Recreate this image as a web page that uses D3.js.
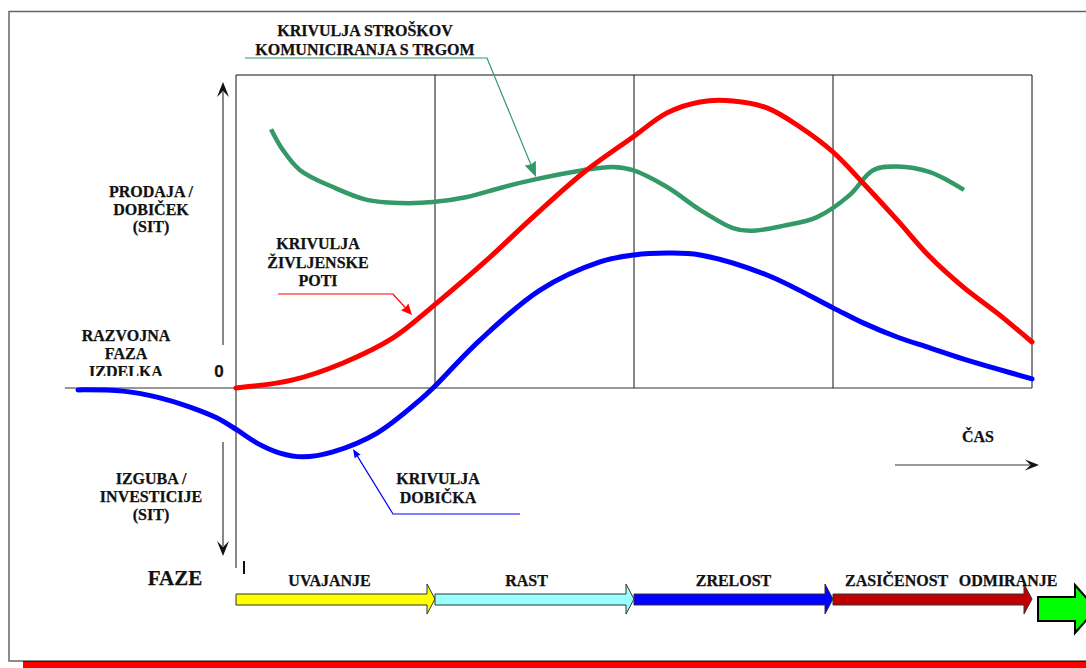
<!DOCTYPE html>
<html>
<head>
<meta charset="utf-8">
<script src="https://cdn.jsdelivr.net/npm/d3@7"></script>
<style>
  body { margin: 0; background: #fff; }
  svg { display: block; }
  text { font-family: "Liberation Serif", "Times New Roman", serif; font-weight: bold; fill: #111; stroke: #111; stroke-width: 0.25px; }
</style>
</head>
<body>
<svg id="chart" width="1086" height="668"></svg>
<script>
// Time is measured in phases (0..4 = introduction .. decline, negative = development);
// values are relative to the top of the chart box (100).
const salesTime  = [0, 0.286, 0.538, 0.789, 1.01, 1.261, 1.492, 1.744, 1.995, 2.166, 2.332, 2.497, 2.668, 2.834, 3.0, 3.151, 3.322, 3.487, 3.653, 3.824, 4.0];
const salesValue = [0, 2.6, 8.0, 16.0, 27.2, 40.9, 54.6, 68.7, 80.2, 87.9, 91.4, 91.7, 89.5, 83.4, 75.4, 65.5, 53.7, 41.9, 32.3, 24.0, 14.7];

const profitTime  = [-0.794, -0.568, -0.397, -0.231, -0.095, 0.005, 0.106, 0.221, 0.337, 0.487, 0.709, 0.925, 0.99, 1.226, 1.528, 1.829, 2.0, 2.166, 2.332, 2.668, 3.0, 3.151, 3.322, 3.487, 3.653, 3.824, 4.0];
const profitValue = [-0.6, -1.0, -2.9, -6.1, -9.6, -13.4, -17.6, -20.8, -22.0, -20.4, -14.4, -3.8, 0, 15.3, 31.3, 40.3, 42.5, 43.1, 42.5, 36.1, 25.6, 20.8, 16.3, 12.8, 9.3, 6.1, 2.9];

const costTime  = [0.176, 0.236, 0.322, 0.487, 0.658, 0.824, 0.99, 1.161, 1.327, 1.492, 1.744, 1.894, 1.995, 2.166, 2.332, 2.497, 2.583, 2.749, 2.92, 3.085, 3.201, 3.322, 3.487, 3.658];
const costValue = [82.7, 76.0, 69.6, 64.2, 60.1, 59.1, 59.4, 61.0, 63.9, 66.5, 69.6, 70.6, 69.6, 64.2, 56.9, 51.1, 50.2, 51.8, 54.6, 61.7, 69.6, 70.8, 69.0, 63.3];

const phaseBounds = [0, 1, 2, 3, 4];
const phaseNames  = ["UVAJANJE", "RAST", "ZRELOST", "ZASIČENOST", "ODMIRANJE"];
const phaseLabelTime = [0.47, 1.46, 2.5, 3.32, 3.88];
const phaseColors = ["#FFFF00", "#99FFFF", "#0000FF", "#C00000"];

const svg = d3.select("#chart");
const x = d3.scaleLinear().domain([0, 4]).range([236, 1032]);
const y = d3.scaleLinear().domain([0, 100]).range([388, 75]);

// outer frame and bottom bar
svg.append("rect").attr("x", 9).attr("y", 11.5).attr("width", 1100).attr("height", 649.5)
  .attr("fill", "none").attr("stroke", "#666").attr("stroke-width", 1.5);
svg.append("rect").attr("x", 23).attr("y", 662).attr("width", 1063).attr("height", 6).attr("fill", "#FF0000");
svg.append("line").attr("x1", 23).attr("x2", 1086).attr("y1", 661.5).attr("y2", 661.5).attr("stroke", "#222");

// filled arrow head, tip at (tx,ty) pointing along angle (radians)
function head(g, tx, ty, ang, len, wid, color, notch) {
  const pts = [[0, 0], [-len, -wid / 2], [-len * notch, 0], [-len, wid / 2]];
  const c = Math.cos(ang), s = Math.sin(ang);
  g.append("path")
    .attr("d", "M" + pts.map(p => [tx + p[0] * c - p[1] * s, ty + p[0] * s + p[1] * c]).join("L") + "Z")
    .attr("fill", color);
}

// chart box with phase dividers
svg.append("line").attr("x1", x(0)).attr("x2", x(4)).attr("y1", y(100)).attr("y2", y(100)).attr("stroke", "#111");
phaseBounds.forEach((t, i) => {
  svg.append("line").attr("x1", x(t)).attr("x2", x(t))
    .attr("y1", y(100)).attr("y2", i === 0 ? 568 : y(0))
    .attr("stroke", "#111").attr("stroke-width", 1);
});
// zero line through the development phase
svg.append("line").attr("x1", x(-0.86)).attr("x2", x(4)).attr("y1", y(0)).attr("y2", y(0)).attr("stroke", "#333");

// vertical value arrows
const axX = 223;
svg.append("line").attr("x1", axX).attr("x2", axX).attr("y1", 345).attr("y2", 92).attr("stroke", "#111");
head(svg, axX, 82, -Math.PI / 2, 15, 12, "#111", 0.6);
svg.append("line").attr("x1", axX).attr("x2", axX).attr("y1", 442).attr("y2", 546).attr("stroke", "#111");
head(svg, axX, 556, Math.PI / 2, 15, 12, "#111", 0.6);
svg.append("line").attr("x1", 244).attr("x2", 244).attr("y1", 561).attr("y2", 574).attr("stroke", "#111").attr("stroke-width", 2);

// time arrow
svg.append("line").attr("x1", 895).attr("x2", 1030).attr("y1", 465).attr("y2", 465).attr("stroke", "#333");
head(svg, 1039, 465, 0, 14, 11, "#111", 0.6);

// curves
const line = d3.line().x(d => x(d[0])).y(d => y(d[1])).curve(d3.curveCatmullRom.alpha(0.5));
const zip = (a, b) => a.map((t, i) => [t, b[i]]);

svg.append("path").attr("d", line(zip(costTime, costValue)))
  .attr("fill", "none").attr("stroke", "#339966").attr("stroke-width", 4.5);
svg.append("path").attr("d", line(zip(profitTime, profitValue)))
  .attr("fill", "none").attr("stroke", "#0000FF").attr("stroke-width", 5).attr("stroke-linecap", "round");
svg.append("path").attr("d", line(zip(salesTime, salesValue)))
  .attr("fill", "none").attr("stroke", "#FF0000").attr("stroke-width", 5).attr("stroke-linecap", "round");

// callout pointers
function pointer(pts, color, hl, hw) {
  const n = pts.length;
  const [ax, ay] = pts[n - 2], [bx, by] = pts[n - 1];
  const ang = Math.atan2(by - ay, bx - ax);
  const end = [bx - Math.cos(ang) * hl * 0.8, by - Math.sin(ang) * hl * 0.8];
  svg.append("path").attr("d", d3.line()(pts.slice(0, n - 1).concat([end])))
    .attr("fill", "none").attr("stroke", color).attr("stroke-width", 1.2);
  head(svg, bx, by, ang, hl, hw, color, 0.9);
}
pointer([[245, 58], [487, 58], [536, 177]], "#339966", 15, 12);
pointer([[278, 294], [393, 294], [412, 315]], "#FF0000", 11, 10);
pointer([[520, 514], [393, 514], [353, 449]], "#0000FF", 9, 7);

// text blocks
function block(lines, cx, y0, dy, size, family) {
  const t = svg.append("text").attr("text-anchor", "middle").attr("font-size", size);
  if (family) t.style("font-family", family);
  lines.forEach((s, i) => t.append("tspan").attr("x", cx).attr("y", y0 + i * dy).text(s));
  return t;
}
block(["KRIVULJA STROŠKOV", "KOMUNICIRANJA S TRGOM"], 365, 36, 19, 16);
block(["PRODAJA /", "DOBIČEK", "(SIT)"], 151, 197, 17.5, 16);
block(["KRIVULJA", "ŽIVLJENSKE", "POTI"], 318, 249, 18.5, 16);
svg.append("clipPath").attr("id", "devClip").append("rect").attr("x", 60).attr("y", 300).attr("width", 140).attr("height", 76);
block(["RAZVOJNA", "FAZA", "IZDELKA"], 126, 341, 18, 16).attr("clip-path", "url(#devClip)");
block(["IZGUBA /", "INVESTICIJE", "(SIT)"], 151, 484, 18, 16);
block(["KRIVULJA", "DOBIČKA"], 438, 484, 18.5, 16);
block(["0"], 219, 377, 0, 17, "'Liberation Sans', Arial, sans-serif");
block(["FAZE"], 175, 585, 0, 21);
block(["ČAS"], 978, 442, 0, 16);

// phase arrows
const bodyTop = 594, bodyBot = 605, headTop = 584, headBot = 614, headLen = 8;
phaseColors.forEach((c, i) => {
  const x0 = x(phaseBounds[i]), x1 = x(phaseBounds[i + 1]);
  const pts = [[x0, bodyTop], [x1 - headLen, bodyTop], [x1 - headLen, headTop], [x1, (headTop + headBot) / 2],
               [x1 - headLen, headBot], [x1 - headLen, bodyBot], [x0, bodyBot]];
  svg.append("path").attr("d", "M" + pts.join("L") + "Z")
    .attr("fill", c).attr("stroke", "#333").attr("stroke-width", 1);
});
// final (continuing) arrow
{
  const x0 = x(4) + 6, xb = x(4) + 43, xt = x(4) + 64;
  const pts = [[x0, 597], [xb, 597], [xb, 585], [xt, 609], [xb, 633], [xb, 621], [x0, 621]];
  svg.append("path").attr("d", "M" + pts.join("L") + "Z")
    .attr("fill", "#00FF00").attr("stroke", "#000").attr("stroke-width", 2);
}
phaseNames.forEach((n, i) => {
  svg.append("text").attr("x", x(phaseLabelTime[i])).attr("y", 586)
    .attr("text-anchor", "middle").attr("font-size", 16).text(n);
});
</script>
</body>
</html>
